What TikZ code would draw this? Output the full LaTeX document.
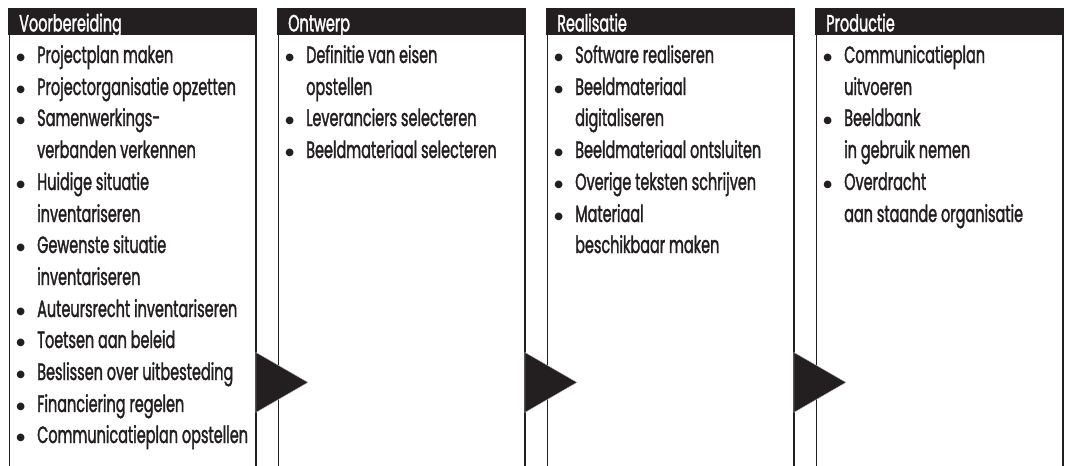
\documentclass[tikz,border=0pt]{standalone}
\usepackage{fontspec}
\setmainfont{Poppins}[FakeStretch=0.615, FakeBold=1.4]
\newfontfamily\symb{DejaVu Sans}
\usepackage{tikz}
\usetikzlibrary{positioning}
\definecolor{ink}{HTML}{231F20}
\newcommand{\bol}{\llap{\makebox[16pt]{\raisebox{3pt}{\symb\fontsize{10}{10}\selectfont ●}}\hspace{8.5pt}}}

\begin{document}
\begin{tikzpicture}[x=1pt,y=-1pt,
  kop/.style={fill=ink, minimum width=249pt, minimum height=27pt, inner sep=0pt, anchor=north west},
  koptekst/.style={text=white, inner sep=0pt, anchor=base west, font=\fontsize{23.5}{23.5}\selectfont},
  regel/.style={text=ink, inner sep=0pt, anchor=base west, font=\fontsize{23.5}{23.5}\selectfont},
  rand/.style={draw=ink, line width=1.6pt},
  pijl/.style={fill=ink, draw=gray!60, line width=0.4pt}]
\useasboundingbox (0,0) rectangle (1066,466);
% kopjes
\node[kop] (Voorbereiding) at (8,8) {};
\node[kop] (Ontwerp) at (277,8) {};
\node[kop] (Realisatie) at (546,8) {};
\node[kop] (Productie) at (815,8) {};
\node[koptekst] (VoorbereidingT) at ([xshift=11pt,yshift=4pt]Voorbereiding.south west) {Voorbereiding};
\node[koptekst] (OntwerpT) at ([xshift=11pt,yshift=4pt]Ontwerp.south west) {Ontwerp};
\node[koptekst] (RealisatieT) at ([xshift=11pt,yshift=4pt]Realisatie.south west) {Realisatie};
\node[koptekst] (ProductieT) at ([xshift=11pt,yshift=4pt]Productie.south west) {Productie};
% randen
\foreach \k in {Voorbereiding,Ontwerp,Realisatie,Productie}{
  \draw[rand] ([xshift=1.5pt]\k.south west) -- ++(0,431);
  \draw[rand] ([xshift=-1.5pt]\k.south east) -- ++(0,431);
}
% pijlen
\foreach \k in {Voorbereiding,Ontwerp,Realisatie}
  \filldraw[pijl] ([xshift=-1.5pt]\k.south east) ++(0,317) -- ++(0,60) -- ++(52,-30) -- cycle;
% Voorbereiding
\node[regel] (v1) at (37,63) {\bol Projectplan maken};
\node[regel] (v2) at (37,95) {\bol Projectorganisatie opzetten};
\node[regel] (v3) at (37,126) {\bol Samenwerkings-};
\node[regel] (v4) at (37,158) {verbanden verkennen};
\node[regel] (v5) at (37,190) {\bol Huidige situatie};
\node[regel] (v6) at (37,222) {inventariseren};
\node[regel] (v7) at (37,253) {\bol Gewenste situatie};
\node[regel] (v8) at (37,285) {inventariseren};
\node[regel] (v9) at (37,317) {\bol Auteursrecht inventariseren};
\node[regel] (v10) at (37,348) {\bol Toetsen aan beleid};
\node[regel] (v11) at (37,380) {\bol Beslissen over uitbesteding};
\node[regel] (v12) at (37,412) {\bol Financiering regelen};
\node[regel] (v13) at (37,443) {\bol Communicatieplan opstellen};
% Ontwerp
\node[regel] (o1) at (306,63) {\bol Definitie van eisen};
\node[regel] (o2) at (306,95) {opstellen};
\node[regel] (o3) at (306,126) {\bol Leveranciers selecteren};
\node[regel] (o4) at (306,158) {\bol Beeldmateriaal selecteren};
% Realisatie
\node[regel] (r1) at (575,63) {\bol Software realiseren};
\node[regel] (r2) at (575,95) {\bol Beeldmateriaal};
\node[regel] (r3) at (575,126) {digitaliseren};
\node[regel] (r4) at (575,158) {\bol Beeldmateriaal ontsluiten};
\node[regel] (r5) at (575,190) {\bol Overige teksten schrijven};
\node[regel] (r6) at (575,222) {\bol Materiaal};
\node[regel] (r7) at (575,253) {beschikbaar maken};
% Productie
\node[regel] (p1) at (844,63) {\bol Communicatieplan};
\node[regel] (p2) at (844,95) {uitvoeren};
\node[regel] (p3) at (844,126) {\bol Beeldbank};
\node[regel] (p4) at (844,158) {in gebruik nemen};
\node[regel] (p5) at (844,190) {\bol Overdracht};
\node[regel] (p6) at (844,222) {aan staande organisatie};
\end{tikzpicture}
\end{document}
